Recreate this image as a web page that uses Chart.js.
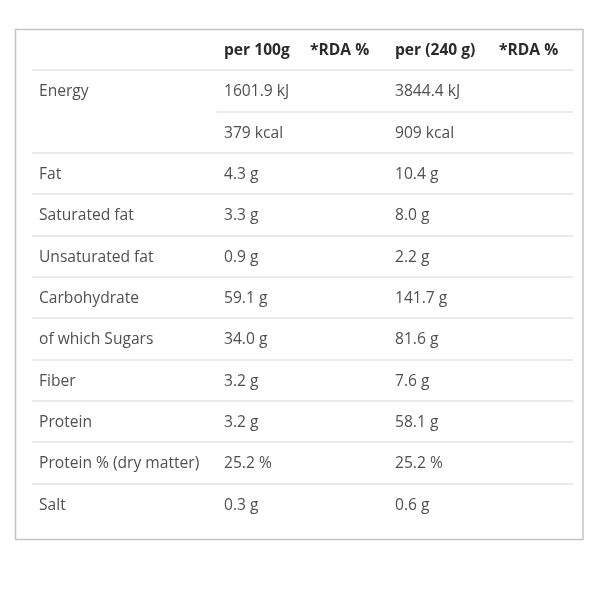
<!DOCTYPE html>
<html>
<head>
<meta charset="utf-8">
<script src="https://cdn.jsdelivr.net/npm/chart.js@4.4.1/dist/chart.umd.min.js"></script>
<style>
  html, body { margin: 0; padding: 0; background: #ffffff; }
  #wrap { width: 600px; height: 600px; }
</style>
</head>
<body>
<div id="wrap"><canvas id="c" width="600" height="600"></canvas></div>
<script>
// ---- data ----
const headers = ['', 'per 100g', '*RDA %', 'per (240 g)', '*RDA %'];
const nutrients = ['Energy', '', 'Fat', 'Saturated fat', 'Unsaturated fat', 'Carbohydrate',
  'of which Sugars', 'Fiber', 'Protein', 'Protein % (dry matter)', 'Salt'];
const units = ['kJ', 'kcal', 'g', 'g', 'g', 'g', 'g', 'g', 'g', '%', 'g'];
const per100g = [1601.9, 379, 4.3, 3.3, 0.9, 59.1, 34.0, 3.2, 3.2, 25.2, 0.3];
const per240g = [3844.4, 909, 10.4, 8.0, 2.2, 141.7, 81.6, 7.6, 58.1, 25.2, 0.6];
const rda100 = [null, null, null, null, null, null, null, null, null, null, null];
const rda240 = [null, null, null, null, null, null, null, null, null, null, null];

// ---- layout/style (not data) ----
const colWidths = [185, 86, 85, 104, 81];
const cellPad = 7;
const FONT = '"Open Sans", "DejaVu Sans", sans-serif';
const FONT_SIZE = 15.6;
const textColor = '#505050';
const headColor = '#2b2b2b';
const lineColor = '#eaeaea';
const frameColor = '#c4c4c4';

const colStart = colWidths.map((w, i) => colWidths.slice(0, i).reduce((a, b) => a + b, 0));
const tableWidth = colWidths.reduce((a, b) => a + b, 0);
const nRows = nutrients.length + 1; // + header row

function fmt(v, u) {
  if (v === null || v === undefined) return '';
  const d = u === 'kcal' ? 0 : 1;
  return v.toFixed(d) + ' ' + u;
}

const columns = [
  nutrients,
  per100g.map((v, i) => fmt(v, units[i])),
  rda100.map((v, i) => fmt(v, units[i])),
  per240g.map((v, i) => fmt(v, units[i])),
  rda240.map((v, i) => fmt(v, units[i]))
];

const datasets = columns.map((col, ci) => ({
  label: headers[ci],
  data: [{ x: colStart[ci], y: 0, t: headers[ci], head: true }]
    .concat(col.map((t, ri) => ({ x: colStart[ci], y: ri + 1, t }))),
  pointRadius: 0,
  pointHoverRadius: 0,
  showLine: false
}));

const tablePlugin = {
  id: 'tablePlugin',
  beforeDraw(chart) {
    const { ctx, chartArea, scales } = chart;
    const y = scales.y, x = scales.x;
    ctx.save();
    // frame
    ctx.strokeStyle = frameColor;
    ctx.lineWidth = 1.5;
    ctx.strokeRect(chartArea.left - 16.5, chartArea.top + 0.5, (chartArea.right - chartArea.left) + 26.5, (chartArea.bottom - chartArea.top) + 14);
    // row separators
    ctx.strokeStyle = lineColor;
    ctx.lineWidth = 2;
    for (let i = 0; i < nRows - 1; i++) {
      const py = Math.round(y.getPixelForValue(i + 0.5));
      // Energy spans two rows: the separator between kJ and kcal starts at column 1
      const startX = (i === 1) ? x.getPixelForValue(colStart[1]) : chartArea.left;
      ctx.beginPath();
      ctx.moveTo(startX, py);
      ctx.lineTo(chartArea.right, py);
      ctx.stroke();
    }
    ctx.restore();
  },
  afterDatasetsDraw(chart) {
    const { ctx } = chart;
    ctx.save();
    ctx.textBaseline = 'middle';
    ctx.textAlign = 'left';
    chart.data.datasets.forEach((ds, di) => {
      const meta = chart.getDatasetMeta(di);
      meta.data.forEach((el, i) => {
        const d = ds.data[i];
        if (!d.t) return;
        ctx.font = (d.head ? 'bold ' : '') + FONT_SIZE + 'px ' + FONT;
        ctx.fillStyle = d.head ? headColor : textColor;
        ctx.fillText(d.t, el.x + cellPad, el.y + 1);
      });
    });
    ctx.restore();
  }
};

new Chart(document.getElementById('c'), {
  type: 'scatter',
  data: { datasets },
  options: {
    responsive: false,
    animation: false,
    events: [],
    layout: { padding: { left: 32, right: 27, top: 29, bottom: 75 } },
    plugins: { legend: { display: false }, tooltip: { enabled: false } },
    scales: {
      x: { type: 'linear', display: false, min: 0, max: tableWidth },
      y: { type: 'linear', display: false, min: -0.5, max: nRows - 0.5, reverse: true }
    }
  },
  plugins: [tablePlugin]
});
</script>
</body>
</html>
